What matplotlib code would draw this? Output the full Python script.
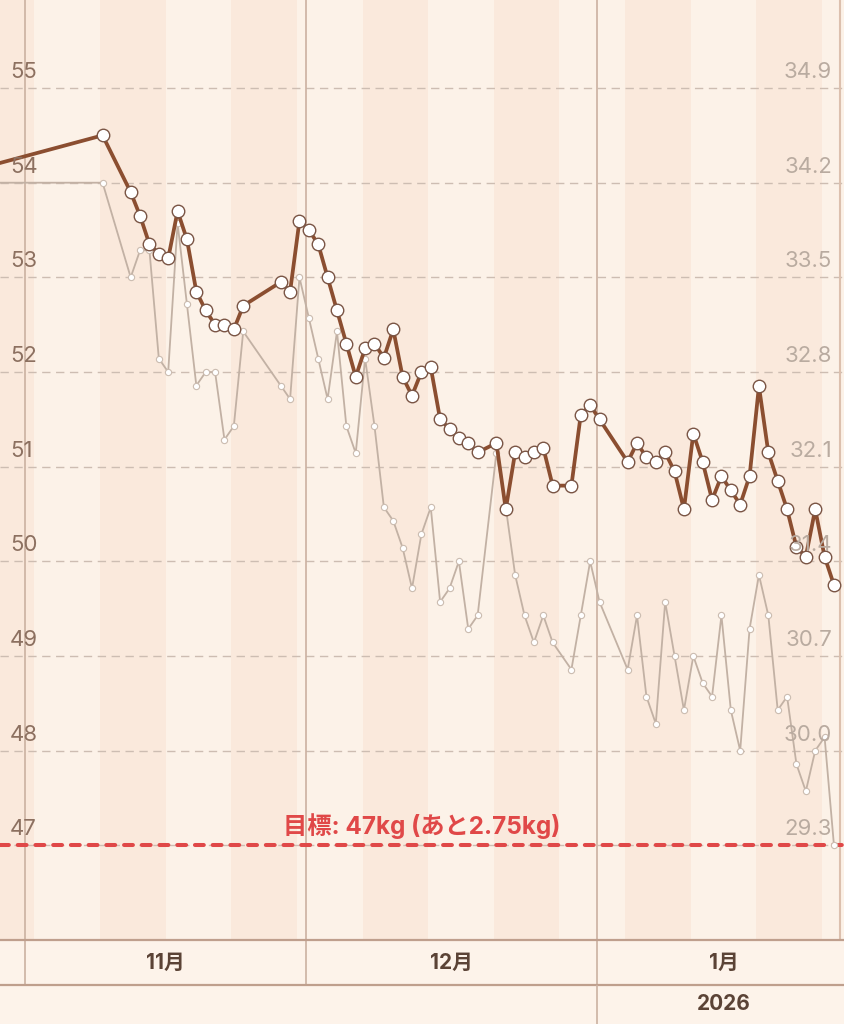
import numpy as np
import pandas as pd
import matplotlib
matplotlib.use("Agg")
import matplotlib.pyplot as plt
import matplotlib.transforms as mtransforms

plt.rcParams['font.family'] = ['Inter', 'Noto Sans CJK JP', 'DejaVu Sans']

# ---- data ----
dates = ["2025-10-25", "2025-11-09", "2025-11-12", "2025-11-13", "2025-11-14", "2025-11-15",
         "2025-11-16", "2025-11-17", "2025-11-18", "2025-11-19", "2025-11-20", "2025-11-21",
         "2025-11-22", "2025-11-23", "2025-11-24", "2025-11-28", "2025-11-29", "2025-11-30",
         "2025-12-01", "2025-12-02", "2025-12-03", "2025-12-04", "2025-12-05", "2025-12-06",
         "2025-12-07", "2025-12-08", "2025-12-09", "2025-12-10", "2025-12-11", "2025-12-12",
         "2025-12-13", "2025-12-14", "2025-12-15", "2025-12-16", "2025-12-17", "2025-12-18",
         "2025-12-19", "2025-12-21", "2025-12-22", "2025-12-23", "2025-12-24", "2025-12-25",
         "2025-12-26", "2025-12-27", "2025-12-29", "2025-12-30", "2025-12-31", "2026-01-01",
         "2026-01-04", "2026-01-05", "2026-01-06", "2026-01-07", "2026-01-08", "2026-01-09",
         "2026-01-10", "2026-01-11", "2026-01-12", "2026-01-13", "2026-01-14", "2026-01-15",
         "2026-01-16", "2026-01-17", "2026-01-18", "2026-01-19", "2026-01-20", "2026-01-21",
         "2026-01-22", "2026-01-23", "2026-01-24", "2026-01-25", "2026-01-26"]

weight = [54.10, 54.50, 53.90, 53.65, 53.35, 53.25, 53.20, 53.70, 53.40, 52.85, 52.65, 52.50,
          52.50, 52.45, 52.70, 52.95, 52.85, 53.60, 53.50, 53.35, 53.00, 52.65, 52.30, 51.95,
          52.25, 52.30, 52.15, 52.45, 51.95, 51.75, 52.00, 52.05, 51.50, 51.40, 51.30, 51.25,
          51.15, 51.25, 50.55, 51.15, 51.10, 51.15, 51.20, 50.80, 50.80, 51.55, 51.65, 51.50,
          51.05, 51.25, 51.10, 51.05, 51.15, 50.95, 50.55, 51.35, 51.05, 50.65, 50.90, 50.75,
          50.60, 50.90, 51.85, 51.15, 50.85, 50.55, 50.15, 50.05, 50.55, 50.05, 49.75]

fat = [34.2, 34.2, 33.5, 33.7, 33.7, 32.9, 32.8, 33.9, 33.3, 32.7, 32.8, 32.8,
       32.3, 32.4, 33.1, 32.7, 32.6, 33.5, 33.2, 32.9, 32.6, 33.1, 32.4, 32.2,
       32.9, 32.4, 31.8, 31.7, 31.5, 31.2, 31.6, 31.8, 31.1, 31.2, 31.4, 30.9,
       31.0, 32.2, 31.8, 31.3, 31.0, 30.8, 31.0, 30.8, 30.6, 31.0, 31.4, 31.1,
       30.6, 31.0, 30.4, 30.2, 31.1, 30.7, 30.3, 30.7, 30.5, 30.4, 31.0, 30.3,
       30.0, 30.9, 31.3, 31.0, 30.3, 30.4, 29.9, 29.7, 30.0, 30.1, 29.3]

left_ticks = [55, 54, 53, 52, 51, 50, 49, 48, 47]
right_ticks = [34.9, 34.2, 33.5, 32.8, 32.1, 31.4, 30.7, 30.0, 29.3]
month_starts = ["2025-11-01", "2025-12-01", "2026-01-01"]
month_labels = ["11月", "12月", "1月"]
month_label_pos = ["2025-11-16", "2025-12-16 12:00", "2026-01-14 12:00"]
year_label = "2026"
goal = 47
goal_text = "目標: 47kg (あと2.75kg)"

# ---- style ----
BG_LIGHT = '#fcf2e8'
BG_DARK = '#fae9dc'
FIG_BG = '#fdf3ea'
BROWN = '#8b4e30'
GREY_LINE = '#c2b1a4'
GRID = '#cdbdb2'
VLINE = '#cbb1a1'
RED = '#e04848'
TXT_LEFT = '#8c7060'
TXT_RIGHT = '#b9aba0'
TXT_AXIS = '#5b4336'

W, H = 844, 1024
PX_DAY = 9.377
origin = pd.Timestamp("2025-11-01")
xmin = origin - pd.Timedelta(days=25 / PX_DAY)
xmax = origin + pd.Timedelta(days=(W - 25) / PX_DAY)

t = (pd.to_datetime(dates) + pd.Timedelta(hours=6.5)).to_pydatetime()

fig = plt.figure(figsize=(W / 100, H / 100), dpi=100)
fig.patch.set_facecolor(FIG_BG)

def fy(px):
    return 1 - px / H

ax = fig.add_axes([0, fy(940), 1, 940 / H])
ax.set_xlim(xmin, xmax)
ylo, yhi = 46.0, 55 + 88 / 94.625
ax.set_ylim(ylo, yhi)
ax.set_facecolor(BG_LIGHT)
for s in ax.spines.values():
    s.set_visible(False)
ax.set_xticks([])
ax.set_yticks([])

# weekly bands
weeks = pd.date_range("2025-10-26", "2026-02-01", freq="7D")
for i, w in enumerate(weeks):
    ax.axvspan(w, w + pd.Timedelta(days=7), color=BG_DARK if i % 2 == 0 else BG_LIGHT,
               lw=0, zorder=0)

for v in left_ticks:
    ax.axhline(v, color=GRID, lw=1.0, ls=(0, (6, 4)), zorder=1)
for m in month_starts:
    ax.axvline(pd.Timestamp(m), color=VLINE, lw=1.2, zorder=1)
ax.axvline(origin + pd.Timedelta(days=(840 - 25) / PX_DAY), color='#dcc0ae', lw=1.5, zorder=1)

ax.axhline(goal, color=RED, lw=2.9, ls=(0, (2.2, 2.2)), dash_capstyle='round', zorder=3)

# right scale (body fat)
def to_right(v):
    return 34.9 - (55 - v) * 0.7

ax2 = ax.twinx()
ax2.set_ylim(to_right(ylo), to_right(yhi))
ax2.set_xlim(xmin, xmax)
ax2.axis('off')
ax2.plot(t, fat, color=GREY_LINE, lw=1.3, marker='o', ms=4.5, mfc='white',
         mec='#cbbcb0', mew=0.8, zorder=2)

# weight on top
ax3 = ax.twinx()
ax3.set_ylim(ylo, yhi)
ax3.set_xlim(xmin, xmax)
ax3.axis('off')
ax3.plot(t, weight, color=BROWN, lw=2.7, marker='o', ms=9, mfc='white',
         mec='#7a5545', mew=1.0, zorder=3, solid_joinstyle='round')

tr_left = mtransforms.blended_transform_factory(ax3.transAxes, ax3.transData)
tr_right = mtransforms.blended_transform_factory(ax3.transAxes, ax2.transData)
off = mtransforms.ScaledTranslation(0, 10 / 100, fig.dpi_scale_trans)
for v in left_ticks:
    ax3.text(0.012, v, str(v), transform=tr_left + off, ha='left', va='baseline',
             fontsize=16, color=TXT_LEFT, zorder=5)
for v in right_ticks:
    ax3.text(0.986, v, f"{v:.1f}", transform=tr_right + off, ha='right', va='baseline',
             fontsize=16, color=TXT_RIGHT, zorder=5)

off_goal = mtransforms.ScaledTranslation(0, 11 / 100, fig.dpi_scale_trans)
ax3.text(0.5, goal, goal_text, transform=tr_left + off_goal, ha='center', va='baseline',
         fontsize=17.5, fontweight='bold', color=RED, zorder=5)

# month row
axm = fig.add_axes([0, fy(985), 1, 45 / H])
axm.set_xlim(xmin, xmax)
axm.set_ylim(0, 1)
axm.set_facecolor(FIG_BG)
axm.set_xticks([])
axm.set_yticks([])
for k in ['left', 'right']:
    axm.spines[k].set_visible(False)
for k in ['top', 'bottom']:
    axm.spines[k].set_color('#bf9f8d')
    axm.spines[k].set_linewidth(1.6)
for m in month_starts:
    axm.axvline(pd.Timestamp(m), color=VLINE, lw=1.2)
for lab, p in zip(month_labels, month_label_pos):
    axm.text(pd.Timestamp(p), 0.5, lab, ha='center', va='center', fontsize=15,
             fontweight='bold', color=TXT_AXIS)

# year row
axy = fig.add_axes([0, 0, 1, 39 / H])
axy.set_xlim(xmin, xmax)
axy.set_ylim(0, 1)
axy.axis('off')
axy.axvline(pd.Timestamp(month_starts[2]), color=VLINE, lw=1.2)
axy.text(pd.Timestamp(month_label_pos[2]), 0.5, year_label, ha='center', va='center',
         fontsize=15, fontweight='bold', color=TXT_AXIS)

fig.savefig("out.png", dpi=100, facecolor=FIG_BG)
